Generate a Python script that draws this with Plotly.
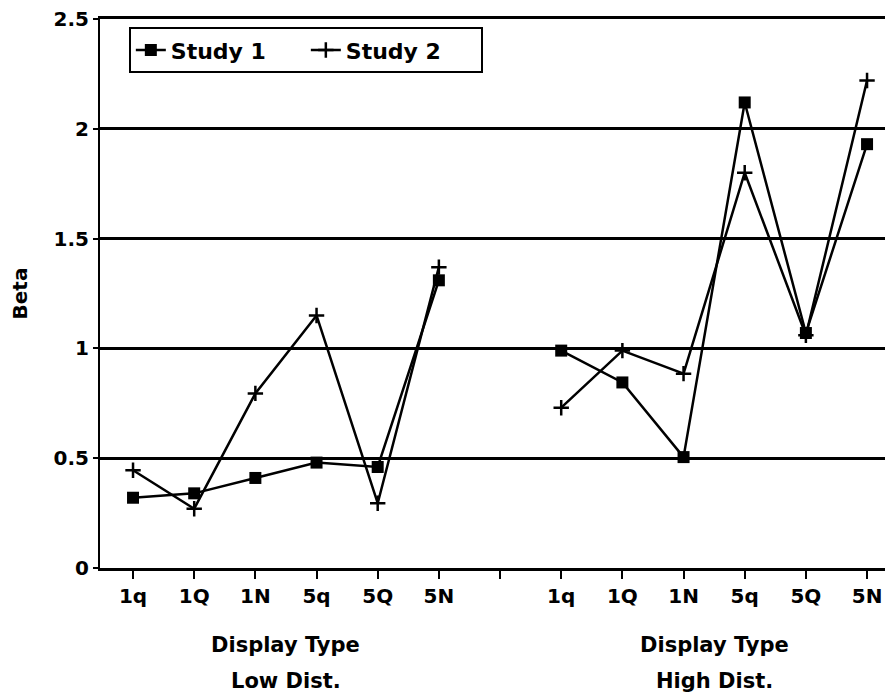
import plotly.graph_objects as go

categories = ["1q", "1Q", "1N", "5q", "5Q", "5N"]
groups = ["Low Dist.", "High Dist."]

study1_low = [0.32, 0.34, 0.41, 0.48, 0.46, 1.31]
study1_high = [0.99, 0.845, 0.505, 2.12, 1.07, 1.93]
study2_low = [0.445, 0.27, 0.795, 1.15, 0.295, 1.37]
study2_high = [0.73, 0.99, 0.885, 1.80, 1.06, 2.22]

yticks = [0, 0.5, 1, 1.5, 2, 2.5]
ytick_text = ["0", "0.5", "1", "1.5", "2", "2.5"]

# x positions: low group 0..5, gap at 6, high group 7..12
xpos_low = list(range(len(categories)))
xpos_high = [i + len(categories) + 1 for i in range(len(categories))]
x_all = xpos_low + [None] + xpos_high

y1 = study1_low + [None] + study1_high
y2 = study2_low + [None] + study2_high

FONT = "DejaVu Sans"

fig = go.Figure()
fig.add_trace(go.Scatter(
    x=x_all, y=y1, name="Study 1", mode="lines+markers",
    line=dict(color="black", width=2.5),
    marker=dict(symbol="square", size=12, color="black"),
    connectgaps=False,
))
fig.add_trace(go.Scatter(
    x=x_all, y=y2, name="Study 2", mode="lines+markers",
    line=dict(color="black", width=2.5),
    marker=dict(symbol="cross-thin", size=11, color="black",
                line=dict(color="black", width=2.5)),
    connectgaps=False,
))

tickvals = xpos_low + [len(categories)] + xpos_high
ticktext = categories + [""] + categories

fig.update_layout(
    width=893, height=697,
    margin=dict(l=92, r=0, t=11, b=137),
    paper_bgcolor="white", plot_bgcolor="white",
    font=dict(family=FONT, size=20, color="black", weight="bold"),
    showlegend=True,
    legend=dict(
        orientation="h", x=0.036, y=0.985, xanchor="left", yanchor="top",
        bordercolor="black", borderwidth=2, bgcolor="white",
        font=dict(family=FONT, size=22, color="black", weight="bold"),
        entrywidth=130, entrywidthmode="pixels",
    ),
    xaxis=dict(
        range=[-0.54, 12.555], tickmode="array", tickvals=tickvals, ticktext=ticktext,
        showgrid=False, zeroline=False,
        showline=True, mirror=True, linecolor="black", linewidth=2.5,
        ticks="outside", ticklen=8, tickwidth=2, tickcolor="black",
        tickfont=dict(family=FONT, size=20, color="black", weight="bold"),
    ),
    yaxis=dict(
        range=[0, 2.5], tickmode="array", tickvals=yticks, ticktext=ytick_text,
        showgrid=True, gridcolor="black", gridwidth=2.5,
        zeroline=True, zerolinecolor="black", zerolinewidth=3,
        showline=True, linecolor="black", linewidth=2,
        ticks="outside", ticklen=5, tickwidth=2, tickcolor="black",
        ticklabeloverflow="allow",
        tickfont=dict(family=FONT, size=20, color="black", weight="bold"),
        title=dict(text="Beta", standoff=30,
                   font=dict(family=FONT, size=20, color="black", weight="bold")),
    ),
)

# group axis titles
for gi, g in enumerate(groups):
    xs = xpos_low if gi == 0 else xpos_high
    xc = (xs[0] + xs[-1]) / 2
    fig.add_annotation(x=xc, y=0, xref="x", yref="paper", yshift=-77, yanchor="middle",
                       text="Display Type", showarrow=False,
                       font=dict(family=FONT, size=21, color="black", weight="bold"))
    fig.add_annotation(x=xc, y=0, xref="x", yref="paper", yshift=-113, yanchor="middle",
                       text=g, showarrow=False,
                       font=dict(family=FONT, size=21, color="black", weight="bold"))

fig.write_html("out.html")
